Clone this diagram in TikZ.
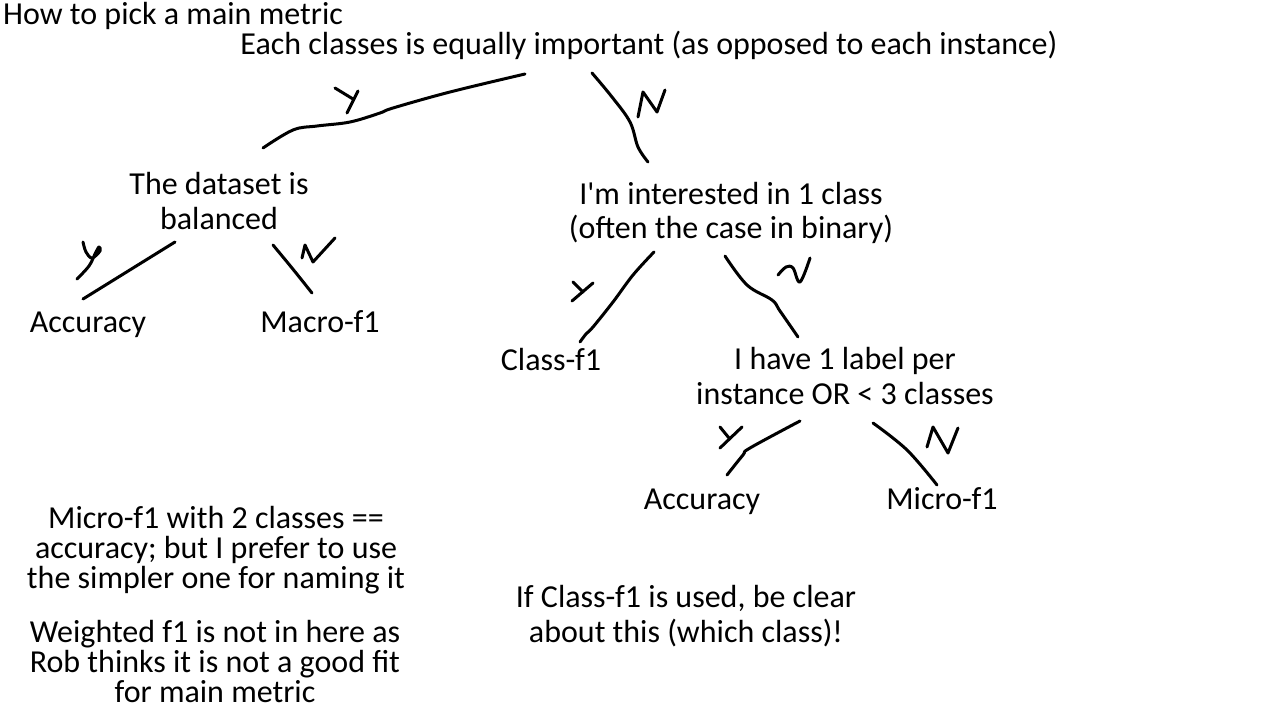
\documentclass[tikz,border=0pt]{standalone}
\usepackage{fontspec}
\setmainfont{Carlito}[Ligatures=TeXOff]
\begin{document}
\begin{tikzpicture}[x=1pt,y=-1pt,
  txt/.style={inner sep=0pt,align=center,font=\fontsize{32}{34.5}\selectfont},
  note/.style={inner sep=0pt,align=center,font=\fontsize{32}{30}\selectfont},
  pen/.style={line width=3pt,line cap=round,line join=round}]
\useasboundingbox[fill=white] (0,0) rectangle (1280,720);
% texts
\node[txt,anchor=west] (title) at (3,16) {How to pick a main metric};
\node[txt] (root) at (649,45) {Each classes is equally important (as opposed to each instance)};
\node[txt] (bal) at (219,201) {The dataset is\\balanced};
\node[txt] (one) at (731,213) {I'm interested in 1 class\\(often the case in binary)};
\node[txt,anchor=base] (acc1) at (88,332) {Accuracy};
\node[txt,anchor=base] (mac) at (320,332) {Macro-f1};
\node[txt,anchor=base] (cls) at (551,370) {Class-f1};
\node[txt] (lab) at (845,376) {I have 1 label per\\instance OR < 3 classes};
\node[txt,anchor=base] (acc2) at (702,509) {Accuracy};
\node[txt,anchor=base] (mic) at (942,509) {Micro-f1};
\node[note] (n1) at (216,550) {Micro-f1 with 2 classes ==\\accuracy; but I prefer to use\\the simpler one for naming it};
\node[note] (n2) at (215,661) {Weighted f1 is not in here as\\Rob thinks it is not a good fit\\for main metric};
\node[txt] (n3) at (686,616) {If Class-f1 is used, be clear\\about this (which class)!};
% hand-drawn branches
\draw[pen] plot[smooth,tension=0.6] coordinates {(263,148) (293,130) (317,126) (350,122) (380,113) (393,108) (450,92) (525,74)};
\draw[pen] plot[smooth,tension=0.6] coordinates {(592,73) (612,97) (630,122) (638,147) (648,162)};
\draw[pen] (83,299) -- (175,242);
\draw[pen] plot[smooth] coordinates {(273,245) (292,268) (312,293)};
\draw[pen] plot[smooth,tension=0.6] coordinates {(654,252) (633,275) (613,302) (593,327) (586,334) (580,342)};
\draw[pen] plot[smooth,tension=0.6] coordinates {(725,256) (747,285) (772,300) (780,311) (798,337)};
\draw[pen] plot[smooth,tension=0.6] coordinates {(800,421) (750,448) (743,455) (727,475)};
\draw[pen] plot[smooth,tension=0.6] coordinates {(873,423) (907,450) (937,485)};
% Y / N marks
\draw[pen] (335,88) -- (353,99);
\draw[pen] (358,91) -- (347,113);
\draw[pen] (638,117) -- (643,92) -- (657,112) -- (665,90);
\draw[pen] plot[smooth,tension=0.6] coordinates {(83,242) (86,252) (92,258) (100,251) (99,247) (95,254) (89,266) (77,279)};
\draw[pen] (302,258) -- (305,245) -- (313,262) -- (335,238);
\draw[pen] (573,282) -- (583,292);
\draw[pen] (593,283) -- (572,301);
\draw[pen] plot[smooth,tension=0.6] coordinates {(778,275) (786,267) (793,268) (800,282) (810,258)};
\draw[pen] (720,427) -- (729,438);
\draw[pen] (742,427) -- (720,448);
\draw[pen] (927,447) -- (933,427) -- (948,453) -- (958,428);
\end{tikzpicture}
\end{document}
